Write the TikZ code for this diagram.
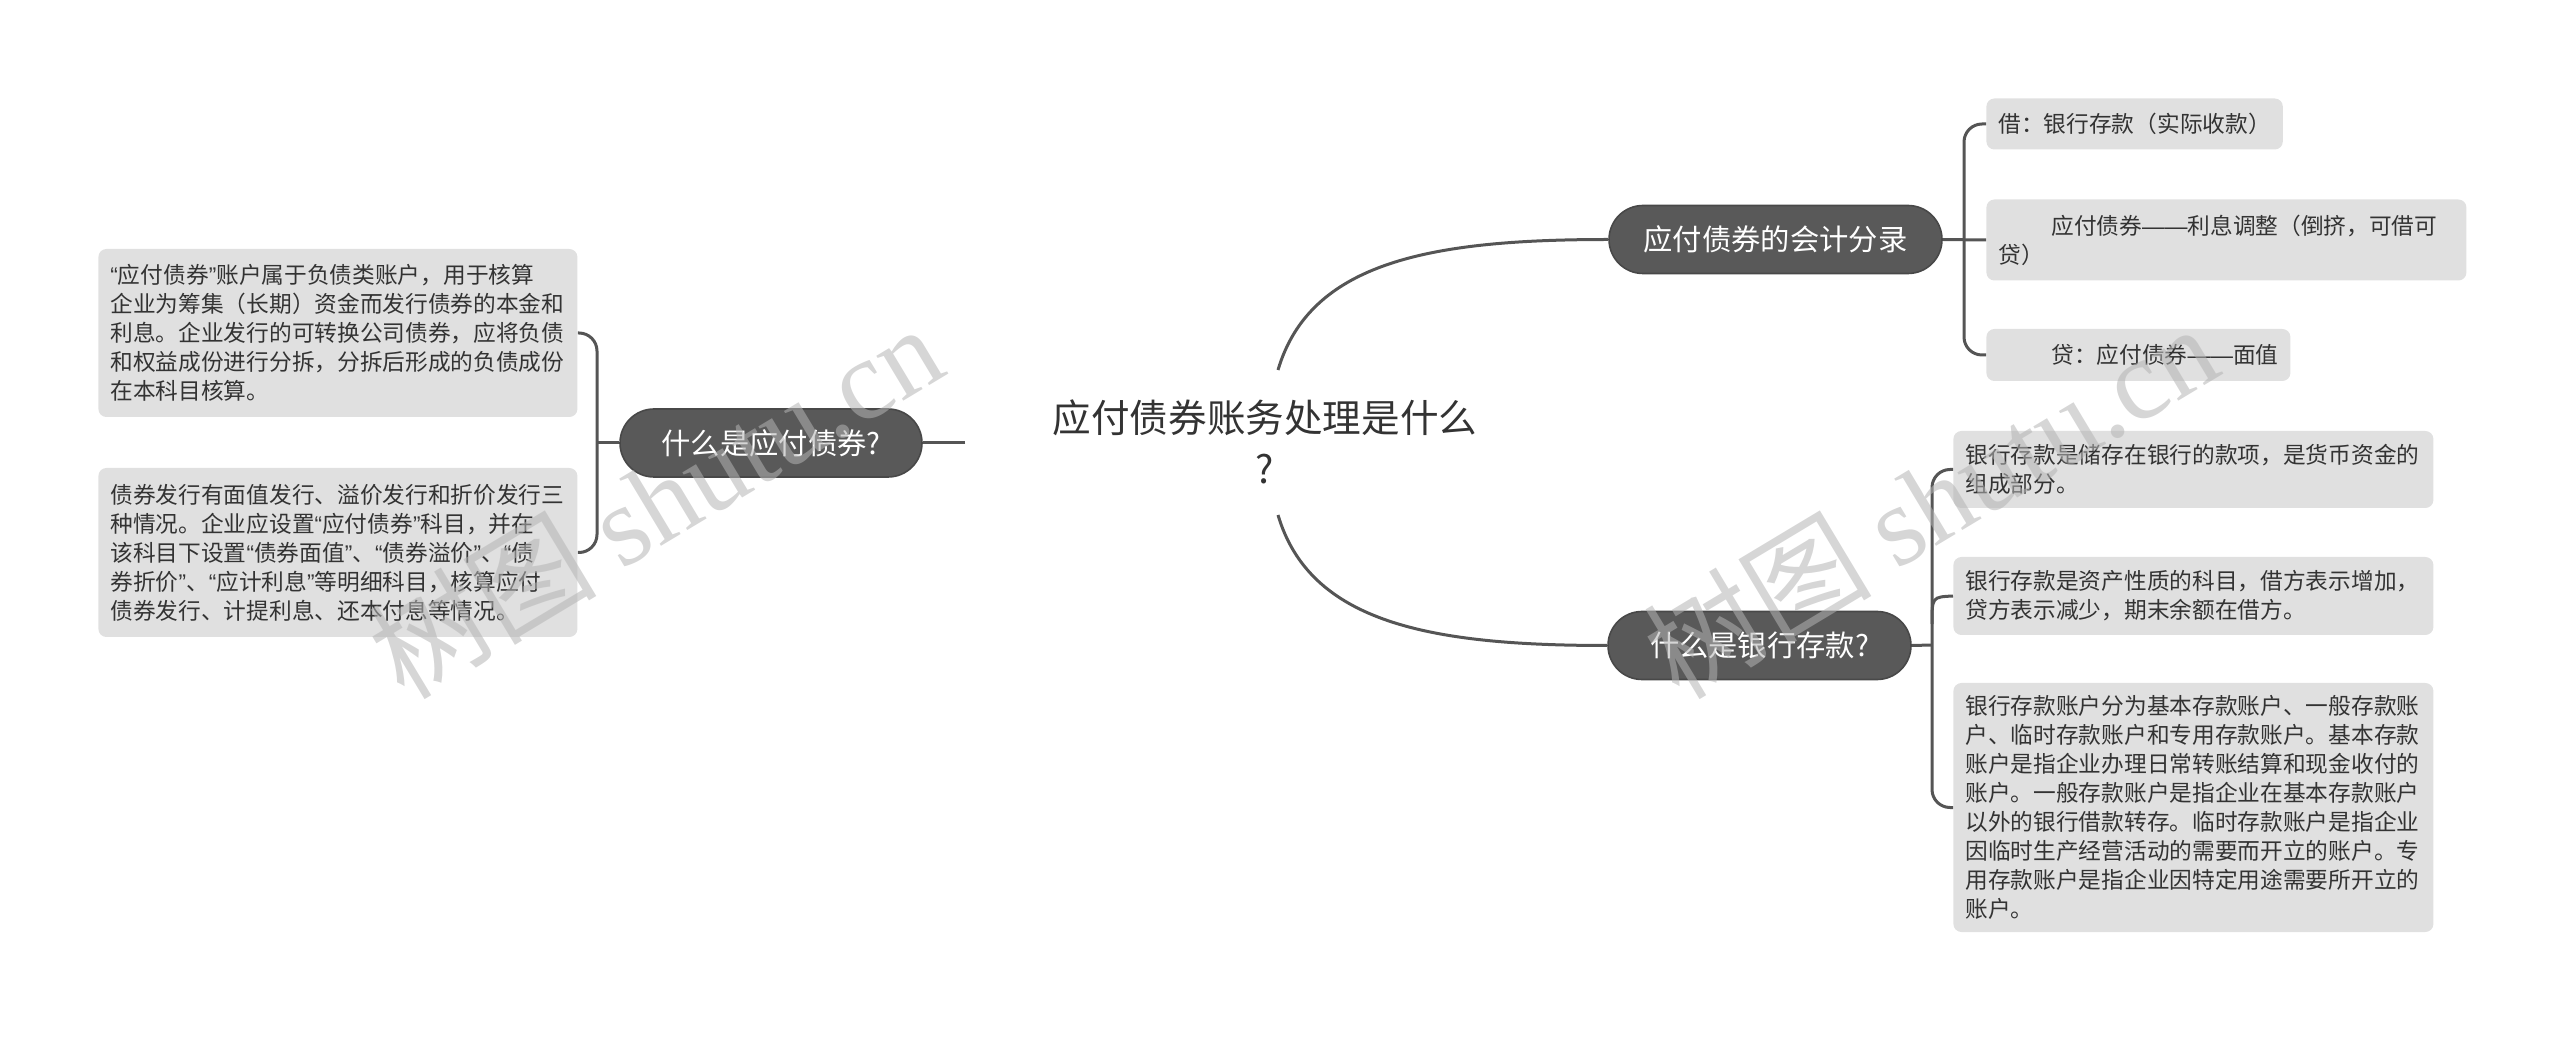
\documentclass[tikz,border=0pt]{standalone}
\usepackage{fontspec}
\setmainfont{Noto Sans CJK SC}
\newfontfamily\wmserif{Liberation Serif}
\newfontfamily\latinsans{Liberation Sans}
\newcommand\cnlq{{\latinsans “}}
\newcommand\cnrq{{\latinsans ”}}
\newcommand\cndash{{\latinsans ——}}
\usepackage{tikz}
\usetikzlibrary{positioning}
\definecolor{mmDark}{HTML}{595959}
\definecolor{mmEdge}{HTML}{484848}
\definecolor{mmLeaf}{HTML}{E0E0E0}
\definecolor{mmLine}{HTML}{555555}
\definecolor{mmText}{HTML}{333333}
\definecolor{mmMark}{HTML}{B4B4B4}

\begin{document}
\begin{tikzpicture}[x=0.5pt, y=-0.5pt,
  topic/.style={draw=mmEdge, fill=mmDark, text=white, rounded corners=17pt,
                minimum height=34pt, inner sep=0pt, line width=0.8pt,
                font=\fontsize{14.65pt}{17pt}\selectfont},
  leaf/.style={fill=mmLeaf, rounded corners=4pt, text=mmText, align=left,
               inner xsep=6pt, inner ysep=5pt, anchor=west,
               font=\fontsize{11.35pt}{14.5pt}\selectfont},
  root/.style={text=mmText, align=center,
               font=\fontsize{19.3pt}{25.5pt}\selectfont},
  link/.style={draw=mmLine, line width=1.5pt},
  brace/.style={link, rounded corners=9pt},
  wmark/.style={text=mmMark, opacity=0.55, rotate=31,
                font=\fontsize{57pt}{57pt}\selectfont}
]
  \useasboundingbox (0,0) rectangle (2560,1047);

  % centre
  \node[root] (root) at (1265,442) {应付债券账务处理是什么\\?};
  \coordinate (rootL) at (965,443);
  \coordinate (rootT) at (1278,370);
  \coordinate (rootB) at (1278,515);

  % main topics
  \node[topic, minimum width=151pt] (bond) at (771,443) {什么是应付债券?};
  \node[topic, minimum width=166.5pt] (entry) at (1775.5,239.5) {应付债券的会计分录};
  \node[topic, minimum width=151.5pt] (bank) at (1759.5,645.5) {什么是银行存款?};

  % left leaves
  \node[leaf, text width=227.5pt, minimum height=84pt] (bondA) at (98,333)
    {\cnlq 应付债券\cnrq 账户属于负债类账户，用于核算\\企业为筹集（长期）资金而发行债券的本金和\\利息。企业发行的可转换公司债券，应将负债\\和权益成份进行分拆，分拆后形成的负债成份\\在本科目核算。};
  \node[leaf, text width=227.5pt, minimum height=84.5pt] (bondB) at (98,552.5)
    {债券发行有面值发行、溢价发行和折价发行三\\种情况。企业应设置\cnlq 应付债券\cnrq 科目，并在\\该科目下设置\cnlq 债券面值\cnrq 、\cnlq 债券溢价\cnrq 、\cnlq 债\\券折价\cnrq 、\cnlq 应计利息\cnrq 等明细科目，核算应付\\债券发行、计提利息、还本付息等情况。};

  % upper right leaves
  \node[leaf, minimum height=25.5pt] (debit) at (1986,124) {借：银行存款（实际收款）};
  \node[leaf, text width=228pt, minimum height=40.5pt] (adjust) at (1986,240)
    {\hspace*{26.5pt}应付债券\cndash 利息调整（倒挤，可借可\\贷）};
  \node[leaf, minimum height=26pt] (credit) at (1986,355) {\hspace*{26.5pt}贷：应付债券\cndash 面值};

  % lower right leaves
  \node[leaf, text width=228pt, minimum height=38.5pt] (bankA) at (1953,469.5)
    {银行存款是储存在银行的款项，是货币资金的\\组成部分。};
  \node[leaf, text width=228pt, minimum height=39pt] (bankB) at (1953,596)
    {银行存款是资产性质的科目，借方表示增加，\\贷方表示减少，期末余额在借方。};
  \node[leaf, text width=228pt, minimum height=124.5pt] (bankC) at (1953,807.5)
    {银行存款账户分为基本存款账户、一般存款账\\户、临时存款账户和专用存款账户。基本存款\\账户是指企业办理日常转账结算和现金收付的\\账户。一般存款账户是指企业在基本存款账户\\以外的银行借款转存。临时存款账户是指企业\\因临时生产经营活动的需要而开立的账户。专\\用存款账户是指企业因特定用途需要所开立的\\账户。};

  % connectors
  \coordinate (spL) at (597,443);
  \coordinate (spT) at (1964,240);
  \coordinate (spB) at (1932,645);
  \coordinate (spBm) at (1932,624);

  \draw[link] (rootL) -- (bond.east);
  \draw[link] (rootT) .. controls (1310,262) and (1430,239.5) .. (entry.west);
  \draw[link] (rootB) .. controls (1310,623) and (1430,645.5) .. (bank.west);

  \draw[link] (bond.west) -- (spL);
  \draw[brace] (bondA.east) -| (spL) |- (bondB.east);

  \draw[link] (entry.east) -- (adjust.west);
  \draw[brace] (debit.west) -| (spT) |- (credit.west);

  \draw[link] (bank.east) -- (spB);
  \draw[brace] (bankA.west) -| (spB) |- (bankC.west);
  \draw[link] (spBm) .. controls (1932,597) .. (bankB.west);

  % watermark
  \node[wmark] (markL) at (655,500) {树图 {\wmserif shutu.cn}};
  \node[wmark] (markR) at (1930,500) {树图 {\wmserif shutu.cn}};
\end{tikzpicture}
\end{document}
